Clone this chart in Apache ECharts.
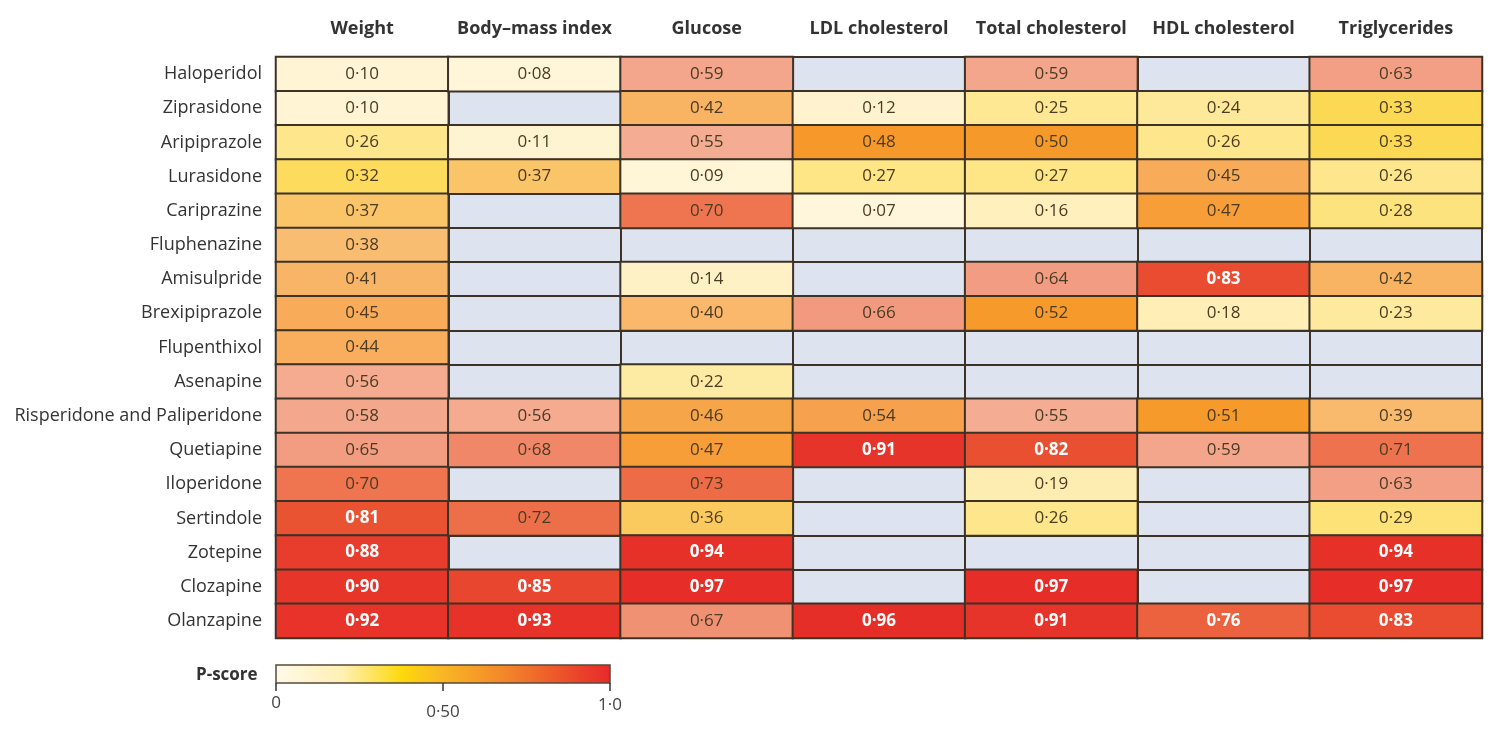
<!DOCTYPE html>
<html>
<head>
<meta charset="utf-8">
<script src="https://cdn.jsdelivr.net/npm/echarts@6/dist/echarts.min.js"></script>
<style>
html,body{margin:0;padding:0;background:#fff;}
#chart{width:1500px;height:732px;}
</style>
</head>
<body>
<div id="chart"></div>
<script>
// ---- data ----
const drugs = ['Haloperidol','Ziprasidone','Aripiprazole','Lurasidone','Cariprazine','Fluphenazine','Amisulpride','Brexipiprazole','Flupenthixol','Asenapine','Risperidone and Paliperidone','Quetiapine','Iloperidone','Sertindole','Zotepine','Clozapine','Olanzapine'];
const outcomes = ['Weight','Body\u2013mass index','Glucose','LDL cholesterol','Total cholesterol','HDL cholesterol','Triglycerides'];
const weight    = [0.10,0.10,0.26,0.32,0.37,0.38,0.41,0.45,0.44,0.56,0.58,0.65,0.70,0.81,0.88,0.90,0.92];
const bmi       = [0.08,null,0.11,0.37,null,null,null,null,null,null,0.56,0.68,null,0.72,null,0.85,0.93];
const glucose   = [0.59,0.42,0.55,0.09,0.70,null,0.14,0.40,null,0.22,0.46,0.47,0.73,0.36,0.94,0.97,0.67];
const ldl       = [null,0.12,0.48,0.27,0.07,null,null,0.66,null,null,0.54,0.91,null,null,null,null,0.96];
const totalChol = [0.59,0.25,0.50,0.27,0.16,null,0.64,0.52,null,null,0.55,0.82,0.19,0.26,null,0.97,0.91];
const hdl       = [null,0.24,0.26,0.45,0.47,null,0.83,0.18,null,null,0.51,0.59,null,null,null,null,0.76];
const trig      = [0.63,0.33,0.33,0.26,0.28,null,0.42,0.23,null,null,0.39,0.71,0.63,0.29,0.94,0.97,0.83];
const legendTicks = [0, 0.5, 1.0];
const legendTickLabels = ['0','0\u00b750','1\u00b70'];

// ---- styling ----
const columns = [weight,bmi,glucose,ldl,totalChol,hdl,trig];
// colour scale used for the cells
const cellStops = [
  [0.00,'#fffbee'],[0.12,'#fff3cf'],[0.24,'#fee99a'],[0.30,'#fde070'],[0.34,'#fcd74a'],
  [0.38,'#f9bd72'],[0.45,'#f8ab58'],[0.48,'#f6982a'],[0.535,'#f59b2c'],[0.55,'#f4ad92'],
  [0.66,'#f29a80'],[0.70,'#ee7550'],[0.80,'#ea5633'],[0.90,'#e7352a'],[1.00,'#e52a27']
];
// colour ramp drawn in the P-score key
const keyStops = [
  [0.00,'#fffaea'],[0.20,'#fff0b4'],[0.38,'#fdd80a'],[0.50,'#f9b625'],
  [0.70,'#f2822a'],[0.88,'#ec4a2b'],[1.00,'#e8292a']
];
const FONT = 'Open Sans';
const fmt = v => v.toFixed(2).replace('.', '\u00b7');

const data = [];
columns.forEach((col, ci) => {
  col.forEach((v, ri) => {
    if (v === null) return;
    const light = v >= 0.75;
    data.push({
      value: [ci, ri, v],
      label: { color: light ? '#ffffff' : '#4a3b22', fontWeight: light ? 'bold' : 'normal' }
    });
  });
});

function lerpColor(stops, t){
  for (let i=1;i<stops.length;i++){
    if (t <= stops[i][0]){
      const [t0,c0] = stops[i-1], [t1,c1] = stops[i];
      const f = (t - t0)/(t1 - t0);
      const a = parseInt(c0.slice(1),16), b = parseInt(c1.slice(1),16);
      const ch = s => Math.round(((a>>s)&255)*(1-f) + ((b>>s)&255)*f);
      return 'rgb(' + ch(16) + ',' + ch(8) + ',' + ch(0) + ')';
    }
  }
  return stops[stops.length-1][1];
}
const vmColors = [];
for (let i=0;i<=200;i++) vmColors.push(lerpColor(cellStops, i/200));

const chart = echarts.init(document.getElementById('chart'));
const gridLeft = 276, gridRight = 18, gridTop = 57, gridBottom = 94;

const legendX = 276, legendY = 665, legendW = 334, legendH = 18;
const graphics = [
  { type:'text', left: 196, top: legendY + 2, style:{ text:'P-score', font:'bold 17px "' + FONT + '"', fill:'#333' } },
  { type:'rect', shape:{ x:legendX, y:legendY, width:legendW, height:legendH },
    style:{ fill: new echarts.graphic.LinearGradient(0,0,1,0, keyStops.map(s=>({offset:s[0], color:s[1]}))), stroke:'#5a4a3a', lineWidth:1.5 } }
];
legendTicks.forEach((t, i) => {
  const x = legendX + t*legendW;
  graphics.push({ type:'line', shape:{ x1:x, y1:legendY+legendH, x2:x, y2:legendY+legendH+8 }, style:{ stroke:'#333', lineWidth:1.5 } });
  graphics.push({ type:'text', x: x, y: legendY + legendH + (i===1 ? 21 : (i===0 ? 12 : 14)),
    style:{ text: legendTickLabels[i], font:'17px "' + FONT + '"', fill:'#444', textAlign:'center' } });
});

chart.setOption({
  backgroundColor: '#ffffff',
  animation: false,
  grid: { left: gridLeft, right: gridRight, top: gridTop, bottom: gridBottom, show: true,
          backgroundColor: '#dde3ef', borderColor: '#3d3226', borderWidth: 2 },
  xAxis: {
    type: 'category', data: outcomes, position: 'top',
    axisLine: { show: false }, axisTick: { show: false },
    axisLabel: { fontFamily: FONT, fontSize: 18, fontWeight: 'bold', color: '#333', margin: 19, interval: 0 },
    splitLine: { show: true, interval: 0, lineStyle: { color: '#3d3226', width: 2 } }
  },
  yAxis: {
    type: 'category', data: drugs, inverse: true,
    axisLine: { show: false }, axisTick: { show: false },
    axisLabel: { fontFamily: FONT, fontSize: 18, color: '#333', margin: 14, interval: 0 },
    splitLine: { show: true, interval: 0, lineStyle: { color: '#3d3226', width: 2 } }
  },
  visualMap: { show: false, min: 0, max: 1, dimension: 2, inRange: { color: vmColors } },
  series: [{
    type: 'heatmap', data: data,
    itemStyle: { borderColor: '#3d3226', borderWidth: 2 },
    label: { show: true, fontFamily: FONT, fontSize: 17, formatter: p => fmt(p.value[2]) },
    emphasis: { disabled: true }
  }],
  graphic: graphics
});
</script>
</body>
</html>
